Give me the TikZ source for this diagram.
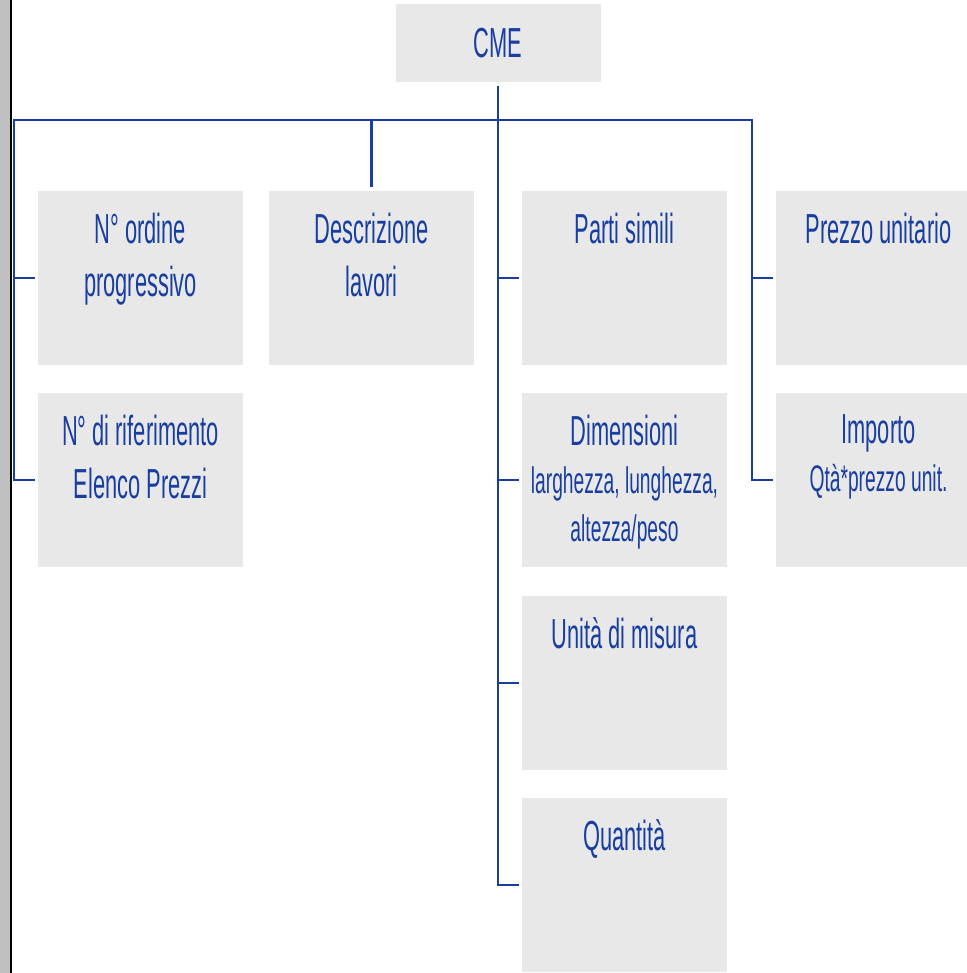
\documentclass[tikz,border=0pt]{standalone}
\usepackage{fontspec}
\newfontfamily\stretto{Liberation Sans}[FakeStretch=0.52]
\usetikzlibrary{positioning,calc}
\definecolor{blu}{RGB}{24,62,160}
\definecolor{grigio}{RGB}{232,232,232}
\definecolor{barra}{RGB}{192,192,192}

\begin{document}
\begin{tikzpicture}[%
         x=1pt,y=1pt,
         casella/.style={rectangle,fill=grigio,minimum width=102.5pt,minimum height=87pt,inner sep=0pt,outer sep=0pt},
         testo/.style={text=blu,align=center,inner sep=0pt,font=\stretto\fontsize{21}{26.7}\selectfont},
         testofitto/.style={testo,font=\stretto\fontsize{21}{24}\selectfont},
         linea/.style={draw=blu,line width=1.3pt}]
        \clip (0,0) rectangle (483.5,-486.5);
        \fill [barra] (0,0) rectangle (5,-486.5);
        \draw [line width=1pt] (5.5,0) -- (5.5,-486.5);
        \node [casella,minimum height=39pt,testo] (cme) at (249,-21.5) {CME};
        \node [casella] (ordine) at (70.25,-139) {};
        \node [casella] (riferimento) [below=14pt of ordine] {};
        \node [casella] (descrizione) [right=13pt of ordine] {};
        \node [casella] (parti) [right=24pt of descrizione] {};
        \node [casella] (dimensioni) [below=14pt of parti] {};
        \node [casella] (unita) [below=14.5pt of dimensioni] {};
        \node [casella] (quantita) [below=14pt of unita] {};
        \node [casella] (prezzo) [right=24.5pt of parti] {};
        \node [casella] (importo) [below=14pt of prezzo] {};
        \node [testo] (t-ordine) [below=10.8pt of ordine.north] {N° ordine\\progressivo};
        \node [testo] (t-riferimento) [below=10.8pt of riferimento.north] {N° di riferimento\\Elenco Prezzi};
        \node [testo] (t-descrizione) [below=10.8pt of descrizione.north] {Descrizione\\lavori};
        \node [testo] (t-parti) [below=10.8pt of parti.north] {Parti simili};
        \node [testofitto] (t-dimensioni) [below=10.8pt of dimensioni.north] {Dimensioni\\{\fontsize{18.5}{24}\selectfont larghezza, lunghezza,}\\{\fontsize{18.5}{24}\selectfont altezza/peso}};
        \node [testo] (t-unita) [below=10.8pt of unita.north] {Unità di misura};
        \node [testo] (t-quantita) [below=10.8pt of quantita.north] {Quantità};
        \node [testo] (t-prezzo) [below=10.8pt of prezzo.north] {Prezzo unitario};
        \node [testofitto] (t-importo) [below=10.8pt of importo.north] {Importo\\{\fontsize{18.5}{24}\selectfont Qtà*prezzo unit.}};
        \coordinate [below=19pt of cme.south] (bivio);
        \coordinate (sinistra) at ($(bivio -| ordine.west)+(-12,0)$);
        \coordinate (destra) at ($(bivio -| prezzo.west)+(-12,0)$);
        \draw [linea] ([yshift=-2pt]cme.south) -- (bivio);
        \draw [linea] ([xshift=-1.5pt]riferimento.west) -| (sinistra) -- (destra) |- ([xshift=-1.5pt]importo.west);
        \draw [linea] (sinistra |- ordine.west) -- ([xshift=-1.5pt]ordine.west);
        \draw [linea] (bivio -| descrizione.north) -- ([yshift=2pt]descrizione.north);
        \draw [linea] (bivio) |- ([xshift=-1.5pt]quantita.west);
        \draw [linea] (bivio |- parti.west) -- ([xshift=-1.5pt]parti.west);
        \draw [linea] (bivio |- dimensioni.west) -- ([xshift=-1.5pt]dimensioni.west);
        \draw [linea] (bivio |- unita.west) -- ([xshift=-1.5pt]unita.west);
        \draw [linea] (destra |- prezzo.west) -- ([xshift=-1.5pt]prezzo.west);
      \end{tikzpicture}
\end{document}
